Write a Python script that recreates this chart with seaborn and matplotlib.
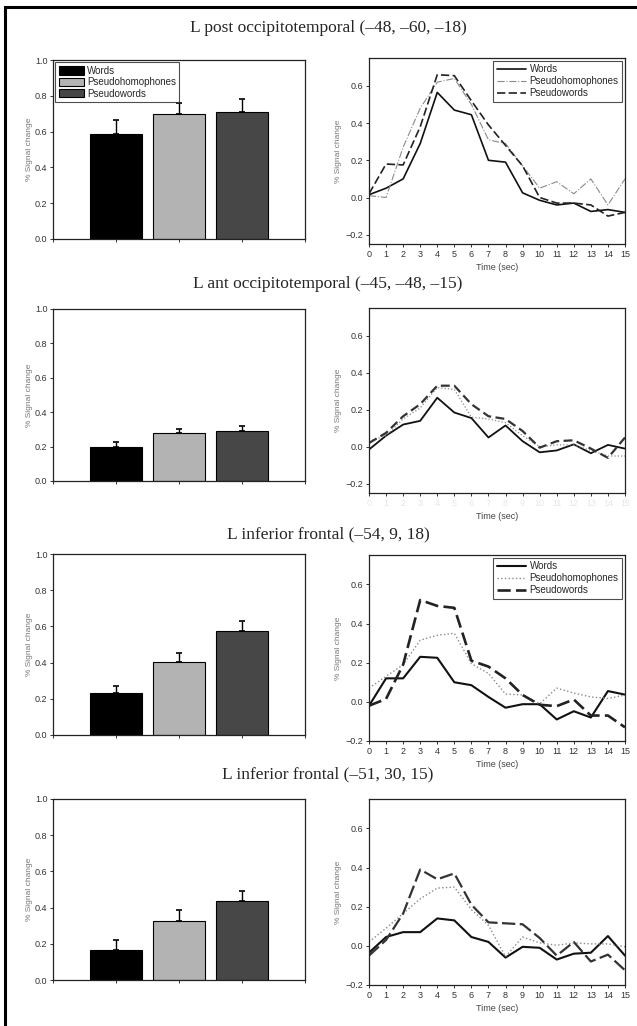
import numpy as np
import pandas as pd
import matplotlib
matplotlib.use("Agg")
import matplotlib.pyplot as plt
import seaborn as sns

sns.set_style("ticks")
plt.rcParams["font.family"] = ["Liberation Sans", "DejaVu Sans"]

conditions = ["Words", "Pseudohomophones", "Pseudowords"]
titles = [
    "L post occipitotemporal (\u201348, \u201360, \u201318)",
    "L ant occipitotemporal (\u201345, \u201348, \u201315)",
    "L inferior frontal (\u201354, 9, 18)",
    "L inferior frontal (\u201351, 30, 15)",
]

# mean % signal change per condition (bar charts) and upper error
bar_means = [
    [0.585, 0.698, 0.708],
    [0.200, 0.280, 0.290],
    [0.230, 0.406, 0.576],
    [0.166, 0.327, 0.437],
]
bar_errs = [
    [0.080, 0.064, 0.072],
    [0.025, 0.022, 0.030],
    [0.040, 0.046, 0.054],
    [0.054, 0.060, 0.056],
]

time_sec = list(range(16))

# time courses, one list per condition per region
words_tc = [
    [0.015, 0.05, 0.10, 0.29, 0.565, 0.47, 0.445, 0.20, 0.19, 0.025, -0.015, -0.04, -0.03, -0.075, -0.065, -0.08],
    [-0.015, 0.06, 0.12, 0.14, 0.265, 0.185, 0.155, 0.05, 0.115, 0.03, -0.03, -0.02, 0.013, -0.035, 0.01, -0.01],
    [-0.02, 0.12, 0.12, 0.23, 0.225, 0.10, 0.085, 0.025, -0.03, -0.012, -0.012, -0.09, -0.048, -0.08, 0.055, 0.037],
    [-0.035, 0.045, 0.07, 0.07, 0.14, 0.13, 0.045, 0.02, -0.06, -0.005, -0.01, -0.07, -0.04, -0.035, 0.05, -0.05],
]
pseudohom_tc = [
    [0.01, 0.0, 0.27, 0.48, 0.62, 0.64, 0.50, 0.31, 0.29, 0.17, 0.05, 0.085, 0.02, 0.10, -0.04, 0.10],
    [0.03, 0.06, 0.15, 0.21, 0.32, 0.31, 0.16, 0.15, 0.13, 0.06, 0.0, 0.01, 0.01, -0.02, -0.05, -0.05],
    [0.07, 0.13, 0.19, 0.315, 0.34, 0.35, 0.195, 0.145, 0.04, 0.035, -0.01, 0.07, 0.045, 0.025, 0.017, 0.035],
    [0.02, 0.09, 0.165, 0.24, 0.295, 0.30, 0.185, 0.105, -0.055, 0.045, 0.015, 0.003, 0.015, 0.01, 0.01, -0.005],
]
pseudow_tc = [
    [0.02, 0.18, 0.175, 0.38, 0.66, 0.655, 0.52, 0.39, 0.28, 0.17, 0.0, -0.03, -0.03, -0.04, -0.10, -0.08],
    [0.02, 0.075, 0.165, 0.23, 0.33, 0.33, 0.23, 0.165, 0.15, 0.085, -0.005, 0.03, 0.035, -0.01, -0.06, 0.05],
    [-0.02, 0.015, 0.19, 0.52, 0.49, 0.48, 0.21, 0.18, 0.12, 0.035, -0.015, -0.022, 0.012, -0.07, -0.07, -0.13],
    [-0.05, 0.03, 0.165, 0.39, 0.34, 0.37, 0.21, 0.12, 0.115, 0.11, 0.04, -0.05, 0.02, -0.08, -0.045, -0.125],
]

bar_colors = ["#000000", "#b3b3b3", "#474747"]

# per-row line styles (color, dash, width)
line_styles = [
    [("#111111", "-", 1.2), ("#8a8a8a", "-.", 0.8), ("#222222", (0, (5, 2)), 1.2)],
    [("#111111", "-", 1.3), ("#8a8a8a", ":", 0.9), ("#333333", (0, (4, 2)), 1.6)],
    [("#111111", "-", 1.5), ("#8a8a8a", ":", 1.0), ("#222222", (0, (5, 2)), 1.9)],
    [("#111111", "-", 1.5), ("#8a8a8a", ":", 1.0), ("#333333", (0, (6, 2)), 1.6)],
]

W, H = 637, 1026
fig = plt.figure(figsize=(W / 100, H / 100), dpi=100)

bar_rows = [(60, 239), (309, 481), (554, 735), (799, 980)]
line_rows = [(58, 244), (308, 493), (555, 741), (799, 985)]
line_ylim = [(-0.25, 0.75), (-0.25, 0.75), (-0.2, 0.75), (-0.2, 0.75)]
title_y = [28, 284, 534, 774]


def px_axes(left, right, top, bottom):
    return fig.add_axes([left / W, 1 - bottom / H, (right - left) / W, (bottom - top) / H])


for i in range(4):
    fig.text(0.515, 1 - title_y[i] / H, titles[i], ha="center", va="center",
             fontsize=12.5, family=["Liberation Serif", "DejaVu Serif"])

    # bar chart
    ax = px_axes(53, 305, *bar_rows[i])
    bdf = pd.DataFrame({"condition": conditions, "value": bar_means[i]})
    sns.barplot(data=bdf, x="condition", y="value", hue="condition",
                palette=bar_colors, width=0.81, edgecolor="black", linewidth=0.8,
                legend=False, ax=ax)
    ax.errorbar(range(3), bar_means[i], yerr=[np.zeros(3), bar_errs[i]], fmt="none",
                ecolor="black", elinewidth=1.0, capsize=2.5, capthick=1.2)
    ax.set_xlim(-1, 3)
    ax.set_xticks([-1, 0, 1, 2, 3])
    ax.set_xticklabels([])
    ax.set_ylim(0, 1.0)
    ax.set_yticks(np.arange(0, 1.01, 0.2))
    ax.set_yticklabels([f"{v:.1f}" for v in np.arange(0, 1.01, 0.2)])
    ax.set_xlabel("")
    ax.set_ylabel("% Signal change", fontsize=6, color="#777777", labelpad=1)
    ax.tick_params(labelsize=6.5, length=2.5, width=0.7, pad=1.5, colors="#333333")
    for s in ax.spines.values():
        s.set_linewidth(0.9)
        s.set_color("#222222")
    if i == 0:
        handles = [plt.Rectangle((0, 0), 1, 1, facecolor=c, edgecolor="black", linewidth=0.8)
                   for c in bar_colors]
        leg = ax.legend(handles, conditions, loc="upper left", fontsize=7, frameon=True,
                        fancybox=False, edgecolor="#222222", borderaxespad=0.25,
                        handlelength=2.6, handleheight=0.9, labelspacing=0.15,
                        handletextpad=0.3, borderpad=0.35)
        leg.get_frame().set_linewidth(0.8)

    # time course
    ax2 = px_axes(369, 625, *line_rows[i])
    series = [words_tc[i], pseudohom_tc[i], pseudow_tc[i]]
    for name, vals, (c, ls, lw) in zip(conditions, series, line_styles[i]):
        tdf = pd.DataFrame({"time": time_sec, "value": vals})
        sns.lineplot(data=tdf, x="time", y="value", color=c, linewidth=lw,
                     linestyle=ls, label=name, ax=ax2)
    ax2.set_xlim(0, 15)
    ax2.set_ylim(*line_ylim[i])
    ax2.set_xticks(time_sec)
    ax2.set_yticks([-0.2, 0.0, 0.2, 0.4, 0.6])
    ax2.set_yticklabels(["\u22120.2", "0.0", "0.2", "0.4", "0.6"])
    ax2.set_xlabel("Time (sec)", fontsize=6.5, color="#444444", labelpad=3)
    ax2.set_ylabel("% Signal change", fontsize=6, color="#777777", labelpad=3)
    ax2.tick_params(labelsize=6.5, length=2.5, width=0.7, pad=1.5, colors="#333333")
    if i == 1:
        ax2.tick_params(axis="x", labelcolor="#e6e6e6")
    for s in ax2.spines.values():
        s.set_linewidth(0.9)
        s.set_color("#222222")
    if i in (0, 2):
        leg = ax2.legend(loc="upper right", fontsize=7, frameon=True, fancybox=False,
                         edgecolor="#222222", borderaxespad=0.3, handlelength=3.0,
                         labelspacing=0.2, handletextpad=0.4, borderpad=0.35)
        leg.get_frame().set_linewidth(0.8)
    else:
        ax2.get_legend().remove()

# page frame (top and left edge)
frame = fig.add_axes([0, 0, 1, 1], facecolor="none")
frame.set_xlim(0, W)
frame.set_ylim(H, 0)
frame.axis("off")
frame.plot([5, 5, W], [H, 7, 7], color="black", linewidth=2.2, solid_joinstyle="miter")

fig.savefig("out.png", dpi=100)
